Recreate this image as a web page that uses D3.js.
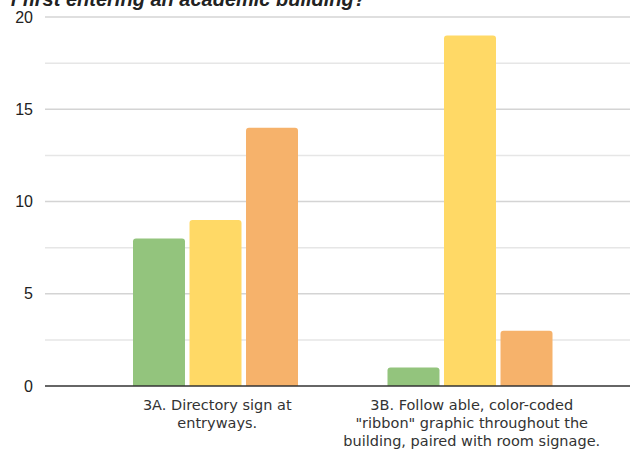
<!DOCTYPE html>
<html>
<head>
<meta charset="utf-8">
<script src="https://cdn.jsdelivr.net/npm/d3@7"></script>
<style>
  html, body { margin: 0; padding: 0; background: #fff; }
  svg { display: block; }
</style>
</head>
<body>
<svg id="chart" width="630" height="450"></svg>
<script>
const titleText = "f first entering an academic building?";
const categories = [
  ["3A. Directory sign at", "entryways."],
  ["3B. Follow able, color-coded", "\"ribbon\" graphic throughout the", "building, paired with room signage."]
];
const categoryKeys = ["3A", "3B"];
const seriesNames = ["s1", "s2", "s3"];
const seriesColors = ["#93c47d", "#ffd966", "#f6b26b"];
const values3A = [8, 9, 14];
const values3B = [1, 19, 3];
const yTicks = [0, 5, 10, 15, 20];
const yGrid = [2.5, 7.5, 12.5, 17.5];

const dataRows = [values3A, values3B];

const svg = d3.select("#chart");

const y = d3.scaleLinear().domain([0, 20]).range([386, 17]);
const x0 = d3.scaleBand().domain(categoryKeys).range([88, 597]).paddingInner(0).paddingOuter(0);
const x1 = d3.scaleBand().domain(seriesNames).range([45, 210]).paddingInner(0.08).paddingOuter(0);

// title (clipped at top)
svg.append("text")
  .attr("x", 366).attr("y", 6)
  .attr("text-anchor", "end")
  .attr("font-family", "Liberation Sans, Arial, sans-serif")
  .attr("font-weight", "bold")
  .attr("font-style", "italic")
  .attr("font-size", 20)
  .attr("fill", "#222")
  .text(titleText);

// gridlines
const gridG = svg.append("g");
gridG.selectAll("line.minor").data(yGrid).join("line")
  .attr("class", "minor")
  .attr("x1", 45).attr("x2", 630)
  .attr("y1", d => y(d)).attr("y2", d => y(d))
  .attr("stroke", "#e6e6e6").attr("stroke-width", 1.5);
gridG.selectAll("line.major").data(yTicks.filter(d => d > 0)).join("line")
  .attr("class", "major")
  .attr("x1", 45).attr("x2", 630)
  .attr("y1", d => y(d)).attr("y2", d => y(d))
  .attr("stroke", "#d4d4d4").attr("stroke-width", 1.5);

// y labels
svg.append("g").selectAll("text").data(yTicks).join("text")
  .attr("x", 33).attr("y", d => y(d))
  .attr("dy", "0.35em")
  .attr("text-anchor", "end")
  .attr("font-family", "Liberation Sans, Arial, sans-serif")
  .attr("font-size", 16)
  .attr("fill", "#222")
  .text(d => d);

// bars
function topRoundedRect(x, yTop, w, h, r) {
  r = Math.min(r, h, w / 2);
  return `M${x},${yTop + h}V${yTop + r}Q${x},${yTop} ${x + r},${yTop}H${x + w - r}Q${x + w},${yTop} ${x + w},${yTop + r}V${yTop + h}Z`;
}

const groups = svg.append("g").selectAll("g").data(categoryKeys).join("g")
  .attr("transform", d => `translate(${x0(d)},0)`);

groups.selectAll("path").data((d, i) => dataRows[i].map((v, j) => ({ s: seriesNames[j], v, c: seriesColors[j] })))
  .join("path")
  .attr("d", d => topRoundedRect(x1(d.s), y(d.v), x1.bandwidth(), y(0) - y(d.v), 3))
  .attr("fill", d => d.c);

// baseline
svg.append("line")
  .attr("x1", 45).attr("x2", 630)
  .attr("y1", y(0)).attr("y2", y(0))
  .attr("stroke", "#333").attr("stroke-width", 1.5);

// category labels
const labG = svg.append("g").selectAll("text").data(categoryKeys).join("text")
  .attr("x", d => x0(d) + x0.bandwidth() / 2 + 2)
  .attr("y", 410)
  .attr("text-anchor", "middle")
  .attr("font-family", "'DejaVu Sans', sans-serif")
  .attr("font-size", 14.5)
  .attr("fill", "#333");
labG.each(function(d, i) {
  d3.select(this).selectAll("tspan").data(categories[i]).join("tspan")
    .attr("x", x0(d) + x0.bandwidth() / 2 + 2)
    .attr("dy", (t, k) => k === 0 ? 0 : 18)
    .text(t => t);
});
</script>
</body>
</html>
